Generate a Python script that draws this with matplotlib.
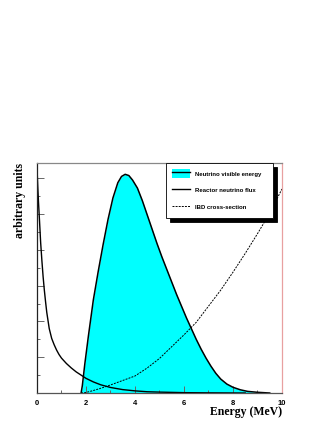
import numpy as np
import matplotlib
matplotlib.use('Agg')
import matplotlib.pyplot as plt
from matplotlib.patches import Patch
from matplotlib.lines import Line2D
from matplotlib.ticker import MultipleLocator

# visible energy spectrum
vis_e = [1.80, 1.85, 1.95, 2.10, 2.30, 2.50, 2.70, 2.90, 3.10, 3.30, 3.45,
         3.60, 3.75, 3.90, 4.10, 4.30, 4.50, 4.70, 4.90, 5.10, 5.30, 5.50,
         5.70, 5.90, 6.10, 6.30, 6.50, 6.70, 6.90, 7.10, 7.30, 7.50, 7.75,
         8.00, 8.30, 8.60, 9.00, 9.50]
vis_y = [0.00, 0.40, 1.60, 3.20, 5.20, 6.80, 8.30, 9.70, 10.90, 11.75, 12.10,
         12.22, 12.15, 11.90, 11.45, 10.75, 9.95, 9.15, 8.35, 7.60, 6.90, 6.20,
         5.50, 4.85, 4.20, 3.60, 3.00, 2.45, 1.95, 1.50, 1.10, 0.78, 0.50,
         0.32, 0.18, 0.09, 0.04, 0.00]

# reactor neutrino flux
flux_e = [0.00, 0.03, 0.06, 0.10, 0.15, 0.20, 0.25, 0.30, 0.35, 0.40, 0.50,
          0.60, 0.70, 0.80, 0.90, 1.00, 1.20, 1.40, 1.60, 1.80, 2.00, 2.30,
          2.60, 3.00, 3.50, 4.00, 4.50, 5.00, 6.00, 7.00, 8.50]
flux_y = [12.60, 11.60, 10.70, 9.70, 8.40, 7.40, 6.50, 5.75, 5.10, 4.50, 3.60,
          3.05, 2.70, 2.40, 2.15, 1.95, 1.65, 1.40, 1.18, 1.00, 0.82, 0.62,
          0.46, 0.31, 0.19, 0.12, 0.07, 0.05, 0.02, 0.01, 0.00]

# IBD cross-section
ibd_e = [1.80, 2.00, 2.25, 2.50, 2.75, 3.00, 3.50, 4.00, 4.50, 5.00, 5.47,
         6.00, 6.50, 7.00, 7.50, 8.00, 8.50, 9.00, 9.50, 10.00]
ibd_y = [0.00, 0.03, 0.12, 0.22, 0.33, 0.45, 0.70, 0.95, 1.40, 1.93, 2.55,
         3.25, 3.95, 4.85, 5.75, 6.75, 7.80, 8.90, 10.05, 11.40]

fig = plt.figure(figsize=(3.27, 4.23), dpi=100)
ax = fig.add_axes([0.1131, 0.0709, 0.7492, 0.5437])

ax.fill_between(vis_e, vis_y, 0, color='#00ffff', lw=0)
ax.plot(vis_e, vis_y, color='black', lw=1.1)
flux_line, = ax.plot(flux_e, flux_y, color='black', lw=1.0)
ibd_line, = ax.plot(ibd_e, ibd_y, color='black', lw=0.7, ls=(0, (2, 1.2)))

ax.set_xlim(0, 10)
ax.set_ylim(0, 12.85)
ax.xaxis.set_major_locator(MultipleLocator(2))
ax.xaxis.set_minor_locator(MultipleLocator(1))
ax.yaxis.set_major_locator(MultipleLocator(2))
ax.yaxis.set_minor_locator(MultipleLocator(1))
ax.tick_params(which='both', direction='in', color='#666666', width=0.7)
ax.tick_params(which='major', length=5)
ax.tick_params(which='minor', length=2.5)
ax.tick_params(axis='y', labelleft=False)
ax.tick_params(axis='x', pad=5)
for lab in ax.get_xticklabels():
    lab.set_fontfamily('Liberation Sans')
    lab.set_fontweight('bold')
    lab.set_fontsize(5.5)

ax.spines['left'].set_color('#222222')
ax.spines['top'].set_color('#888888')
ax.spines['bottom'].set_color('#555555')
ax.spines['right'].set_color('#e8a0a0')
for s in ax.spines.values():
    s.set_linewidth(0.9)

ax.set_ylabel('arbitrary units', loc='top', fontfamily='Liberation Serif',
              fontweight='bold', fontsize=8.5)
ax.yaxis.set_label_coords(-0.045, 1.0)
ax.set_xlabel('Energy (MeV)', loc='right', fontfamily='Liberation Serif',
              fontweight='bold', fontsize=8.5)
ax.xaxis.set_label_coords(1.0, -0.058)

h_vis = (Patch(facecolor='#00ffff', edgecolor='none'),
         Line2D([], [], color='black', lw=1.0))
leg = ax.legend([h_vis, flux_line, ibd_line],
                ['Neutrino visible energy', 'Reactor neutrino flux', 'IBD cross-section'],
                loc='upper left', bbox_to_anchor=(0.527, 1.0, 0.436, 0.0),
                mode='expand', prop={'family': 'Liberation Sans', 'weight': 'bold', 'size': 4.3},
                handlelength=3.0, handleheight=2.0, labelspacing=1.25,
                borderpad=1.0, handletextpad=0.8, borderaxespad=0,
                fancybox=False, framealpha=1, edgecolor='black',
                shadow={'ox': 3, 'oy': -3, 'color': 'black', 'alpha': 1})
leg.get_frame().set_linewidth(0.6)

fig.savefig('out.png', dpi=100)
